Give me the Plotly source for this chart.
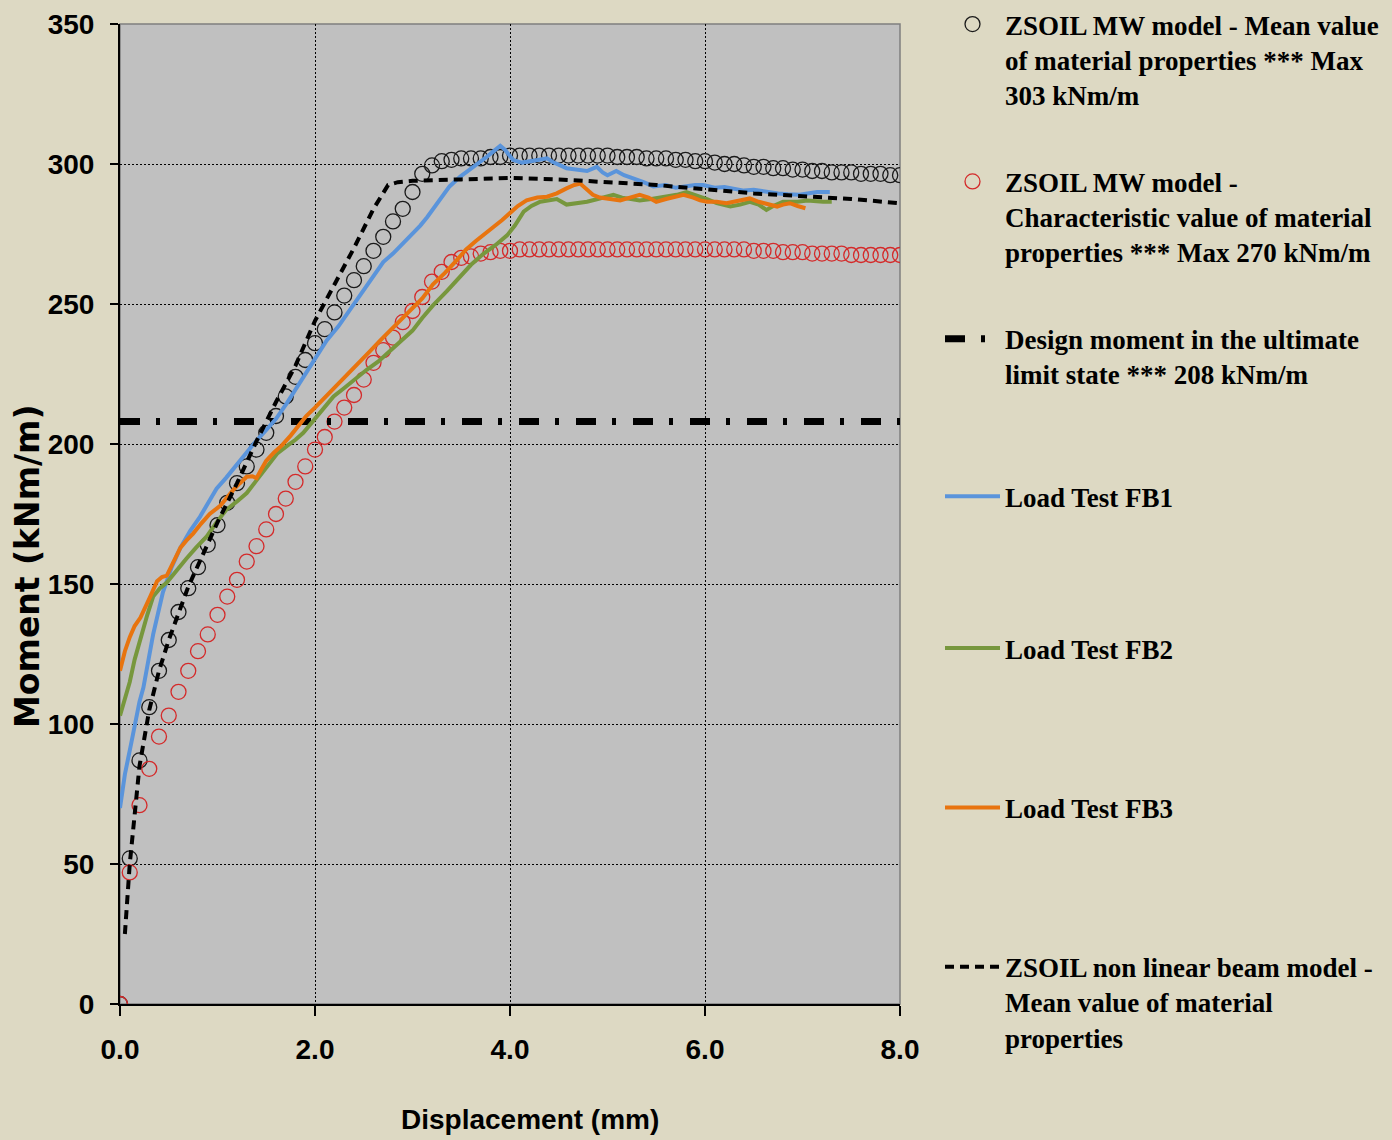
import plotly.graph_objects as go

# ---------------- data ----------------
mw_mean_x = [0.0, 0.1, 0.2, 0.3, 0.4, 0.5, 0.6, 0.7, 0.8, 0.9, 1.0, 1.1, 1.2, 1.3, 1.4, 1.5, 1.6, 1.7, 1.8, 1.9,
             2.0, 2.1, 2.2, 2.3, 2.4, 2.5, 2.6, 2.7, 2.8, 2.9, 3.0, 3.1, 3.2, 3.3, 3.4, 3.5, 3.6, 3.7, 3.8, 3.9,
             4.0, 4.1, 4.2, 4.3, 4.4, 4.5, 4.6, 4.7, 4.8, 4.9, 5.0, 5.1, 5.2, 5.3, 5.4, 5.5, 5.6, 5.7, 5.8, 5.9,
             6.0, 6.1, 6.2, 6.3, 6.4, 6.5, 6.6, 6.7, 6.8, 6.9, 7.0, 7.1, 7.2, 7.3, 7.4, 7.5, 7.6, 7.7, 7.8, 7.9, 8.0]
mw_mean_y = [0, 52, 87, 106, 119, 130, 140, 148.5, 156, 164, 171, 179, 186, 192, 198, 204, 210, 217, 224, 230,
             236, 241, 247, 253, 258.5, 263.5, 269, 274, 279.5, 284, 290, 296.5, 299.5, 301, 301.5, 302, 302, 302, 302.5, 302.5,
             303, 303, 303, 303, 303, 303, 303, 303, 303, 303, 303, 302.5, 302.5, 302.5, 302, 302, 302, 301.5, 301.5, 301,
             301, 300.5, 300, 300, 299.5, 299, 299, 298.5, 298.5, 298, 298, 297.5, 297.5, 297, 297, 297, 296.5, 296.5, 296.5, 296, 296]

mw_char_x = mw_mean_x
mw_char_y = [0, 47, 71, 84, 95.5, 103, 111.5, 119, 126, 132, 139, 145.5, 151.5, 158, 163.5, 169.5, 175, 180.5, 186.5, 192,
             198, 202.5, 208, 213, 217.5, 223, 229, 233.5, 238, 243.5, 247.5, 252.5, 258, 261.5, 265, 266.5, 267, 268, 268.5, 269,
             269, 269.5, 269.5, 269.5, 269.5, 269.5, 269.5, 269.5, 269.5, 269.5, 269.5, 269.5, 269.5, 269.5, 269.5, 269.5, 269.5, 269.5, 269.5, 269.5,
             269.5, 269.5, 269.5, 269.5, 269.5, 269, 269, 269, 268.5, 268.5, 268.5, 268, 268, 268, 268, 267.5, 267.5, 267.5, 267.5, 267.5, 267.5]

design_x = [0.0, 8.0]
design_y = [208, 208]

fb1_x = [0.0, 0.05, 0.12, 0.2, 0.24, 0.34, 0.44, 0.53, 0.62, 0.72, 0.82, 0.92, 0.99, 1.09, 1.23, 1.37, 1.5, 1.6, 1.71, 1.81,
         1.91, 2.01, 2.12, 2.24, 2.36, 2.45, 2.53, 2.62, 2.7, 2.8, 2.87, 2.97, 3.08, 3.15, 3.21, 3.3, 3.38, 3.49, 3.55, 3.62,
         3.69, 3.76, 3.83, 3.9, 3.95, 4.03, 4.12, 4.24, 4.3, 4.38, 4.45, 4.58, 4.68, 4.79, 4.89, 4.95, 5.0, 5.09, 5.17, 5.26,
         5.37, 5.47, 5.6, 5.7, 5.78, 5.9, 5.98, 6.1, 6.2, 6.29, 6.4, 6.5, 6.63, 6.75, 6.85, 6.97, 7.05, 7.15, 7.28]
fb1_y = [70, 82, 94, 108, 113, 132, 147, 156, 163, 169, 174, 180, 184, 188, 194, 200, 205, 209, 214.5, 220,
         226, 231, 237, 242, 248, 252, 256, 261, 265, 268, 270.5, 274, 278, 281, 284, 288.5, 292, 295.5, 297, 299,
         300.5, 302.5, 304.5, 306.5, 305, 301.5, 300.5, 301, 301.5, 302, 300.5, 298.5, 298, 297.5, 299, 297, 296, 297.5, 296, 295,
         293.5, 292, 292.5, 291.5, 292, 292.5, 292.5, 291.5, 291.8, 291.3, 290.5, 290.8, 290, 289.5, 289.2, 289, 289.5, 290, 290]

fb2_x = [0.0, 0.05, 0.1, 0.15, 0.21, 0.28, 0.34, 0.41, 0.48, 0.58, 0.68, 0.78, 0.89, 0.99, 1.09, 1.2, 1.3, 1.4, 1.5, 1.61,
         1.72, 1.8, 1.88, 2.0, 2.1, 2.19, 2.3, 2.42, 2.53, 2.65, 2.76, 2.87, 3.0, 3.1, 3.21, 3.35, 3.49, 3.6, 3.73, 3.85,
         3.97, 4.05, 4.14, 4.22, 4.31, 4.4, 4.48, 4.58, 4.68, 4.79, 4.9, 5.0, 5.06, 5.15, 5.24, 5.33, 5.45, 5.55, 5.61, 5.71,
         5.81, 5.9, 6.02, 6.12, 6.26, 6.36, 6.46, 6.55, 6.63, 6.7, 6.8, 6.95, 7.05, 7.21, 7.3]
fb2_y = [103, 109, 115, 123, 131, 139, 145.5, 148.5, 150.5, 155, 159, 163, 167, 172, 176.5, 179.5, 182.5, 187, 191.5, 196.5,
         199.5, 201.5, 204, 209, 213, 217, 220, 223.5, 226.5, 229.5, 233, 236.5, 240.5, 245, 249.5, 254.5, 260, 264, 268, 271,
         274.5, 278, 283, 285, 286.5, 287, 287.5, 285.5, 286, 286.5, 287.5, 288.5, 289, 288, 287.5, 287, 287.5, 288, 288.3, 289,
         290, 289, 287.5, 286, 284.8, 285.5, 286.5, 285.5, 283.6, 285, 286.5, 286.5, 287, 286.5, 286.5]

fb3_x = [0.0, 0.05, 0.1, 0.15, 0.21, 0.26, 0.31, 0.38, 0.43, 0.48, 0.55, 0.62, 0.68, 0.75, 0.83, 0.92, 1.03, 1.1, 1.16, 1.23,
         1.3, 1.36, 1.4, 1.45, 1.5, 1.58, 1.66, 1.75, 1.83, 1.91, 2.0, 2.1, 2.19, 2.28, 2.37, 2.46, 2.56, 2.67, 2.77, 2.87,
         2.98, 3.1, 3.21, 3.33, 3.45, 3.55, 3.65, 3.75, 3.83, 3.92, 4.0, 4.08, 4.17, 4.28, 4.38, 4.48, 4.58, 4.66, 4.72, 4.78,
         4.85, 4.92, 4.99, 5.06, 5.13, 5.23, 5.33, 5.42, 5.5, 5.6, 5.7, 5.78, 5.88, 5.95, 6.02, 6.12, 6.22, 6.34, 6.46, 6.55,
         6.65, 6.74, 6.8, 6.87, 6.95, 7.03]
fb3_y = [119, 126, 131, 135, 138, 141.5, 145.5, 151, 152.5, 153, 158, 163, 165.5, 168, 171.5, 175, 178, 181, 183.5, 186,
         188.3, 188.5, 187.8, 191, 194, 197, 199.5, 203, 206.5, 210, 213, 216.5, 220, 223, 226, 229, 233, 237, 240.5, 244,
         248, 252, 257, 261, 265.5, 269.5, 272.5, 275.5, 277.5, 280, 282.5, 285, 287, 288, 288.3, 289.5, 291.3, 292.5, 293, 291,
         289, 288, 287.7, 287.5, 287, 288, 289, 288, 286.5, 287.5, 288.5, 289, 288, 287, 286.5, 286.5, 286, 287, 287.7, 286.5,
         285.5, 284.8, 285.5, 286, 285, 284.2]

beam_x = [0.05, 0.1, 0.2, 0.3, 0.4, 0.5, 0.7, 1.0, 1.2, 1.4, 1.6, 1.8, 2.0, 2.2, 2.4, 2.6, 2.7, 2.75, 2.85, 3.0,
          3.5, 4.0, 4.5, 5.0, 5.5, 6.0, 6.5, 7.0, 7.5, 8.0]
beam_y = [25, 50, 85, 105, 119, 130, 149, 172, 186, 201, 215, 228, 244, 257, 270, 284, 290, 292.5, 293.5, 294,
          294.5, 295, 294.5, 293.5, 292.5, 291, 289.5, 288.5, 287.5, 286]

names = [
    "ZSOIL MW model - Mean value<br>of material properties *** Max<br>303 kNm/m<br> ",
    "ZSOIL MW model -<br>Characteristic value of material<br>properties *** Max 270 kNm/m<br> ",
    "Design moment in the ultimate<br>limit state *** 208 kNm/m<br> <br> ",
    "Load Test FB1",
    "Load Test FB2<br> <br> <br> ",
    "Load Test FB3<br> <br> <br> ",
    "ZSOIL non linear beam model -<br>Mean value of material<br>properties",
]
x_ticks = [0, 2, 4, 6, 8]
x_ticktext = ["0.0", "2.0", "4.0", "6.0", "8.0"]
y_ticks = [0, 50, 100, 150, 200, 250, 300, 350]

# ---------------- figure ----------------
W, H = 1392, 1140
L, R, T, B = 120, 492, 24, 136
PAPER = "#DDD9C3"
PLOT = "#C0C0C0"

fig = go.Figure()
fig.add_trace(go.Scatter(x=mw_mean_x, y=mw_mean_y, mode="markers", name=names[0], legendgroup="g1", legend="legend",
                         marker=dict(symbol="circle-open", size=15, color="#1a1a1a", line=dict(width=1.3))))
fig.add_trace(go.Scatter(x=mw_char_x, y=mw_char_y, mode="markers", name=names[1], legendgroup="g2", legend="legend",
                         marker=dict(symbol="circle-open", size=15, color="#D42A2A", line=dict(width=1.3))))
fig.add_trace(go.Scatter(x=design_x, y=design_y, mode="lines", name=names[2], legendgroup="g3", legend="legend",
                         line=dict(color="black", width=7, dash="20px,16px,4px,17px")))
fig.add_trace(go.Scatter(x=fb1_x, y=fb1_y, mode="lines", name=names[3], legendgroup="g4", legend="legend",
                         line=dict(color="#5A94DB", width=4)))
fig.add_trace(go.Scatter(x=fb2_x, y=fb2_y, mode="lines", name=names[4], legendgroup="g5", legend="legend2",
                         line=dict(color="#77973D", width=4)))
fig.add_trace(go.Scatter(x=fb3_x, y=fb3_y, mode="lines", name=names[5], legendgroup="g6", legend="legend2",
                         line=dict(color="#E8740F", width=4)))
fig.add_trace(go.Scatter(x=beam_x, y=beam_y, mode="lines", name=names[6], legendgroup="g7", legend="legend2",
                         line=dict(color="black", width=4, dash="9px,6px")))

tickfont = dict(family="Liberation Sans, Arial, sans-serif", size=28, color="black", weight="bold")
legend_font = dict(family="Liberation Serif, Times New Roman, serif", size=27, color="black", weight="bold")
legend_common = dict(
    xref="container", yref="container", x=940 / W,
    xanchor="left", yanchor="top",
    bgcolor="rgba(0,0,0,0)", borderwidth=0,
    font=legend_font, itemwidth=55, valign="top",
    itemclick=False, itemdoubleclick=False,
)

fig.update_layout(
    width=W, height=H,
    margin=dict(l=L, r=R, t=T, b=B, autoexpand=False),
    paper_bgcolor=PAPER, plot_bgcolor=PLOT,
    showlegend=True,
    legend=dict(y=1 + 7 / H, tracegroupgap=14, **legend_common),
    legend2=dict(y=1 - 624 / H, tracegroupgap=16, **legend_common),
    xaxis=dict(
        range=[0, 8], tickvals=x_ticks, ticktext=x_ticktext, automargin=False,
        showgrid=True, gridcolor="black", gridwidth=1, griddash="2px,2px",
        showline=True, linecolor="black", linewidth=2,
        ticks="outside", ticklen=10, tickcolor="black", tickwidth=1.5,
        ticklabelstandoff=9,
        tickfont=tickfont, zeroline=False, fixedrange=True,
    ),
    yaxis=dict(
        range=[0, 350], tickvals=y_ticks, automargin=False,
        showgrid=True, gridcolor="black", gridwidth=1, griddash="2px,2px",
        showline=True, linecolor="black", linewidth=2,
        ticks="outside", ticklen=8, tickcolor="black", tickwidth=1.5,
        ticklabelstandoff=10,
        tickfont=tickfont, zeroline=False, fixedrange=True,
    ),
    shapes=[dict(type="rect", xref="paper", yref="paper", x0=0, x1=1, y0=0, y1=1,
                 line=dict(color="#7F7F7F", width=1.5), layer="below")],
    annotations=[
        dict(text="Moment (kNm/m)", xref="paper", yref="paper",
             x=(27 - L) / (W - L - R), y=(1004 - 566) / (H - T - B),
             xanchor="center", yanchor="middle", textangle=-90, showarrow=False,
             font=dict(family="DejaVu Sans, Verdana, sans-serif", size=33, color="black", weight="bold")),
        dict(text="Displacement (mm)", xref="paper", yref="paper",
             x=(530 - L) / (W - L - R), y=(1004 - 1119) / (H - T - B),
             xanchor="center", yanchor="middle", showarrow=False,
             font=dict(family="Liberation Sans, Arial, sans-serif", size=28,
                       color="black", weight="bold")),
    ],
)

fig.write_html(
    "out.html",
    config={"displayModeBar": False},
    post_script="document.body.style.margin='0';document.body.style.padding='0';"
                "document.body.style.background='" + PAPER + "';",
)
